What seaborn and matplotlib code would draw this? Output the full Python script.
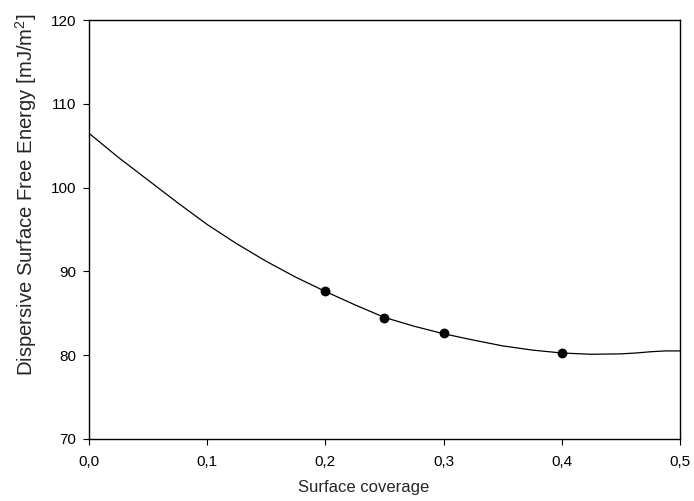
import pandas as pd
import seaborn as sns
import matplotlib
matplotlib.use("Agg")
import matplotlib.pyplot as plt

# Measured points
coverage = [0.20, 0.25, 0.30, 0.40]
energy = [87.6, 84.45, 82.6, 80.2]

# Fitted curve
fit_x = [0.0, 0.025, 0.05, 0.075, 0.1, 0.125, 0.15, 0.175, 0.2, 0.225, 0.25,
         0.275, 0.3, 0.325, 0.35, 0.375, 0.4, 0.425, 0.45, 0.4625, 0.475, 0.4875, 0.5]
fit_y = [106.5, 103.6, 100.9, 98.2, 95.6, 93.3, 91.2, 89.3, 87.6, 86.0, 84.5,
         83.45, 82.55, 81.8, 81.1, 80.6, 80.25, 80.1, 80.15, 80.25, 80.4, 80.5, 80.5]

x_ticks = [0.0, 0.1, 0.2, 0.3, 0.4, 0.5]
x_labels = ["0,0", "0,1", "0,2", "0,3", "0,4", "0,5"]
y_ticks = [70, 80, 90, 100, 110, 120]

pts = pd.DataFrame({"x": coverage, "y": energy})
curve = pd.DataFrame({"x": fit_x, "y": fit_y})

sns.set_style("ticks")
plt.rcParams["font.family"] = ["Liberation Sans", "DejaVu Sans"]
plt.rcParams["mathtext.fontset"] = "custom"
plt.rcParams["mathtext.rm"] = "Liberation Sans"
plt.rcParams["mathtext.it"] = "Liberation Sans:italic"

fig = plt.figure(figsize=(6.94, 5.01), dpi=100)
ax = fig.add_axes([0.128, 0.124, 0.852, 0.836])

sns.lineplot(data=curve, x="x", y="y", color="black", linewidth=0.9, ax=ax)
sns.scatterplot(data=pts, x="x", y="y", color="black", s=50, edgecolor="black",
                linewidth=0, zorder=3, ax=ax)

ax.set_xlim(0, 0.5)
ax.set_ylim(70, 120)
ax.set_xticks(x_ticks)
ax.set_xticklabels(x_labels)
ax.set_yticks(y_ticks)
for s in ax.spines.values():
    s.set_visible(True)
    s.set_linewidth(1.0)
    s.set_color("black")
ax.tick_params(axis="both", direction="out", length=4.5, width=0.8, colors="black",
               labelsize=11)
ax.tick_params(axis="x", pad=7)
ax.tick_params(axis="y", pad=4.5)

ax.set_xlabel("Surface coverage", fontsize=12)
ax.set_ylabel("Dispersive Surface Free Energy [mJ/m$^2$]", fontsize=14.6)
ax.xaxis.set_label_coords(0.464, -0.098)
ax.yaxis.set_label_coords(-0.085, 0.582)

fig.savefig("out.png", dpi=100)
